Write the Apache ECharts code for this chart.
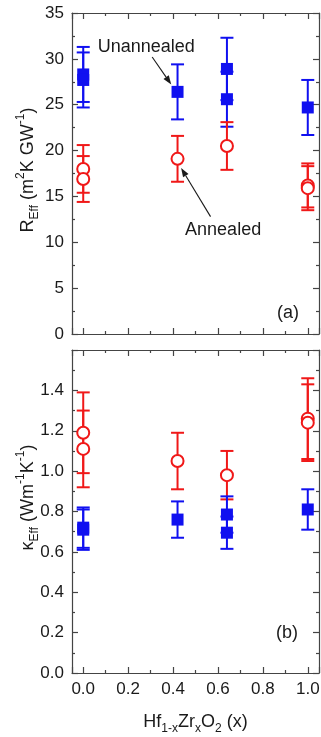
<!DOCTYPE html>
<html><head><meta charset="utf-8">
<script src="https://cdn.jsdelivr.net/npm/echarts@6/dist/echarts.min.js"></script>
<style>html,body{margin:0;padding:0;background:#fff}#c{width:321px;height:737px}</style>
</head><body><div id="c"></div>
<script>
// ---- data ----
const xUnannealed = [0.0, 0.0, 0.42, 0.64, 0.64, 1.0];
const xAnnealed   = [0.0, 0.0, 0.42, 0.64, 1.0, 1.0];
const rUnannealed    = [28.3, 27.7, 26.4, 28.9, 25.6, 24.7];
const rUnannealedErr = [3.0, 3.0, 3.0, 3.4, 3.0, 3.0];
const rAnnealed      = [18.0, 16.9, 19.1, 20.5, 16.2, 15.9];
const rAnnealedErr   = [2.6, 2.5, 2.5, 2.6, 2.4, 2.4];
const kAnnealed      = [1.19, 1.11, 1.05, 0.98, 1.26, 1.24];
const kAnnealedErr   = [0.20, 0.19, 0.14, 0.12, 0.20, 0.19];
const kUnannealed    = [0.72, 0.71, 0.76, 0.785, 0.695, 0.81];
const kUnannealedErr = [0.10, 0.10, 0.09, 0.09, 0.08, 0.10];
// annotations (data coordinates of panel a)
const arrowUnannealed = [0.307, 30.2, 0.392, 27.2];
const arrowAnnealed   = [0.567, 12.8, 0.436, 18.1];
const labelUnannealed = [0.281, 31.3];
const labelAnnealed   = [0.623, 11.3];
const panelA = [0.912, 2.3];
const panelB = [0.908, 0.20];

const BLUE = '#1010f0', RED = '#f01818', AX = '#444', TXT = '#1a1a1a';
const FONT = 'Liberation Sans, Arial, sans-serif';

function errSeries(xs, ys, es, color, ai) {
  return {
    type: 'custom', xAxisIndex: ai * 2, yAxisIndex: ai * 2, silent: true, z: 2,
    data: xs.map((x, i) => [x, ys[i] - es[i], ys[i] + es[i]]),
    encode: { x: 0, y: [1, 2] },
    renderItem(params, api) {
      const x = api.value(0);
      const lo = api.coord([x, api.value(1)]);
      const hi = api.coord([x, api.value(2)]);
      const w = 6.5, st = { stroke: color, lineWidth: 2 };
      return { type: 'group', children: [
        { type: 'line', shape: { x1: lo[0], y1: lo[1], x2: hi[0], y2: hi[1] }, style: st },
        { type: 'line', shape: { x1: lo[0] - w, y1: lo[1], x2: lo[0] + w, y2: lo[1] }, style: st },
        { type: 'line', shape: { x1: hi[0] - w, y1: hi[1], x2: hi[0] + w, y2: hi[1] }, style: st }
      ]};
    }
  };
}
function pts(xs, ys) { return xs.map((x, i) => [x, ys[i]]); }
function sq(xs, ys, ai) {
  return { type: 'scatter', xAxisIndex: ai * 2, yAxisIndex: ai * 2, symbol: 'rect', symbolSize: 12, z: 3,
    itemStyle: { color: BLUE, opacity: 1 }, data: pts(xs, ys), silent: true };
}
function circ(xs, ys, ai) {
  return { type: 'scatter', xAxisIndex: ai * 2, yAxisIndex: ai * 2, symbol: 'circle', symbolSize: 12, z: 3,
    itemStyle: { color: '#fff', borderColor: RED, borderWidth: 2, opacity: 1 }, data: pts(xs, ys), silent: true };
}
function arrowSeries(arrows) {
  return {
    type: 'custom', xAxisIndex: 0, yAxisIndex: 0, silent: true, z: 4,
    data: arrows,
    renderItem(params, api) {
      const a = api.coord([api.value(0), api.value(1)]);
      const b = api.coord([api.value(2), api.value(3)]);
      const dx = b[0] - a[0], dy = b[1] - a[1], L = Math.hypot(dx, dy);
      const ux = dx / L, uy = dy / L, hl = 9, hw = 3.2;
      const base = [b[0] - ux * hl, b[1] - uy * hl];
      return { type: 'group', children: [
        { type: 'line', shape: { x1: a[0], y1: a[1], x2: base[0], y2: base[1] }, style: { stroke: TXT, lineWidth: 1.1 } },
        { type: 'polygon', shape: { points: [b, [base[0] - uy * hw, base[1] + ux * hw], [base[0] + uy * hw, base[1] - ux * hw]] }, style: { fill: TXT } }
      ]};
    }
  };
}
function textSeries(ai, items) {
  return {
    type: 'custom', xAxisIndex: ai * 2, yAxisIndex: ai * 2, silent: true, z: 4,
    data: items.map(it => [it[0], it[1]]),
    renderItem(params, api) {
      const p = api.coord([api.value(0), api.value(1)]);
      return { type: 'text', x: p[0], y: p[1], style: { text: items[params.dataIndex][2], fill: TXT, fontSize: 18, fontFamily: FONT, align: 'center', verticalAlign: 'middle' } };
    }
  };
}

const tickCommon = { show: true, inside: true, length: 6, lineStyle: { color: AX, width: 1.2 } };
const minorCommon = { show: true, splitNumber: 2, length: 3, lineStyle: { color: AX, width: 1.2 } };
const lineCommon = { show: true, onZero: false, lineStyle: { color: AX, width: 1.2 } };
const labelStyle = { color: TXT, fontSize: 17, fontFamily: FONT, margin: 8 };
const richName = {
  n: { fontSize: 18, fontFamily: FONT, color: TXT, lineHeight: 26 },
  sub: { fontSize: 12, fontFamily: FONT, color: TXT, verticalAlign: 'bottom', lineHeight: 12 },
  sup: { fontSize: 12, fontFamily: FONT, color: TXT, verticalAlign: 'top', lineHeight: 12 }
};

function xAx(grid, pos, labels, name) {
  const o = { type: 'value', gridIndex: grid, position: pos, min: -0.05, max: 1.05, splitNumber: 5,
    axisLine: lineCommon, axisTick: tickCommon, minorTick: minorCommon, splitLine: { show: false },
    axisLabel: { show: labels, showMinLabel: false, showMaxLabel: false, ...labelStyle, formatter: v => v.toFixed(1) } };
  if (name) { o.name = name; o.nameLocation = 'middle'; o.nameGap = 36; o.nameMoveOverlap = false; o.nameTextStyle = { rich: richName }; }
  return o;
}
function yAx(grid, pos, labels, min, max, interval, fmt, name, shift) {
  const o = { type: 'value', gridIndex: grid, position: pos, min, max, interval,
    axisLine: lineCommon, axisTick: tickCommon, minorTick: minorCommon, splitLine: { show: false },
    axisLabel: { show: labels, ...labelStyle, formatter: fmt, showMaxLabel: grid === 0 } };
  if (name) { o.name = name; o.nameLocation = 'middle'; o.nameGap = 31; o.nameRotate = 90; o.nameMoveOverlap = false;
    o.nameTextStyle = { rich: richName, padding: [0, 0, 0, shift] }; }
  return o;
}

const chart = echarts.init(document.getElementById('c'), null, { renderer: 'canvas' });
chart.setOption({
  animation: false,
  backgroundColor: '#fff',
  grid: [
    { left: 72, right: 2, top: 13, height: 321, outerBoundsMode: 'none' },
    { left: 72, right: 2, top: 350, height: 323, outerBoundsMode: 'none' }
  ],
  xAxis: [
    xAx(0, 'bottom', false), xAx(0, 'top', false),
    xAx(1, 'bottom', true, '{n|Hf}{sub|1-x}{n|Zr}{sub|x}{n|O}{sub|2}{n| (x)}'), xAx(1, 'top', false)
  ],
  yAxis: [
    yAx(0, 'left', true, 0, 35, 5, v => String(v), '{n|R}{sub|Eff}{n| (m}{sup|2}{n|K GW}{sup|-1}{n|)}', 7),
    yAx(0, 'right', false, 0, 35, 5),
    yAx(1, 'left', true, 0, 1.6, 0.2, v => v.toFixed(1), '{n|κ}{sub|Eff}{n| (Wm}{sup|-1}{n|K}{sup|-1}{n|)}', 28),
    yAx(1, 'right', false, 0, 1.6, 0.2)
  ],
  series: [
    errSeries(xUnannealed, rUnannealed, rUnannealedErr, BLUE, 0),
    errSeries(xAnnealed, rAnnealed, rAnnealedErr, RED, 0),
    sq(xUnannealed, rUnannealed, 0),
    circ(xAnnealed, rAnnealed, 0),
    errSeries(xAnnealed, kAnnealed, kAnnealedErr, RED, 1),
    errSeries(xUnannealed, kUnannealed, kUnannealedErr, BLUE, 1),
    circ(xAnnealed, kAnnealed, 1),
    sq(xUnannealed, kUnannealed, 1),
    arrowSeries([arrowUnannealed, arrowAnnealed]),
    textSeries(0, [[labelUnannealed[0], labelUnannealed[1], 'Unannealed'], [labelAnnealed[0], labelAnnealed[1], 'Annealed'], [panelA[0], panelA[1], '(a)']]),
    textSeries(1, [[panelB[0], panelB[1], '(b)']])
  ]
});
</script></body></html>
